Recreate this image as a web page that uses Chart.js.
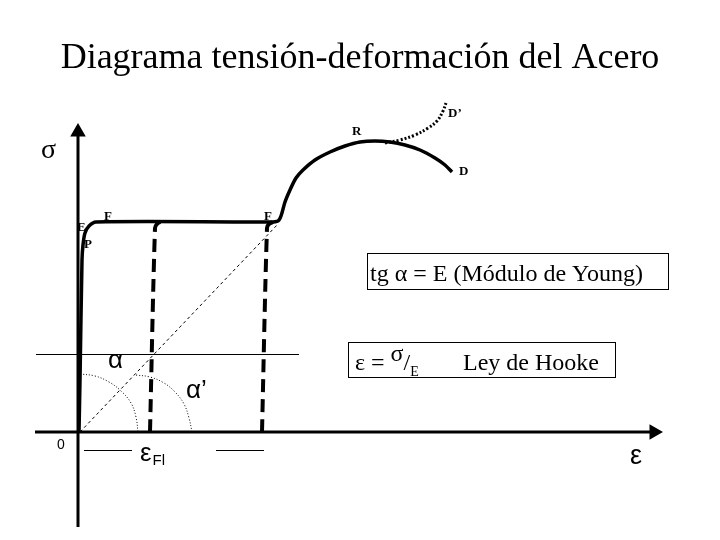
<!DOCTYPE html>
<html lang="es">
<head>
<meta charset="utf-8">
<title>Diagrama tensión-deformación del Acero</title>
<script src="https://cdn.jsdelivr.net/npm/chart.js@4.4.1/dist/chart.umd.min.js"></script>
<style>
  html, body { margin: 0; padding: 0; background: #fff; }
  #wrap { width: 720px; height: 540px; position: relative; }
</style>
</head>
<body>
<div id="wrap"><canvas id="diagrama"></canvas></div>
<script>
// Valores: ε en horizontal, σ en vertical, origen en el cruce de ejes
const curvaAcero = [[1,0],[2,52],[4,172],[5,187],[7,199],[11,206],[18,210],[192,210],[200,211],[203,216],
  [207,230],[212,242],[218,254],[225,262],[237,272],[252,280],[267,286],[282,290],[297,291],[312,290],
  [327,287],[342,282],[357,274],[367,267],[374,260]];
const ramaReal = [[307,289],[322,292],[337,297],[350,304],[359,311],[365,321],[368,329]];
const descarga1 = [[72,0],[77,204],[79,208],[82,210]];
const descarga2 = [[184,0],[189,204],[191,208],[195,210]];
const rectaE = [[2,0],[200,208]];
const lineaSigma = [[-42,77.5],[221,77.5]];
const tramoIzq = [[6,-18.5],[54,-18.5]];
const tramoDer = [[138,-18.5],[186,-18.5]];
const arcoAlfa = [[2,58],[17,56],[31,50],[43,41],[53,29],[58,15],[60,0]];
const arcoAlfa2 = [[58,57],[72,55],[86,49],[97,40],[106,28],[111,14],[114,0]];
const ejeSigma = [[0,-95],[0,300]];
const ejeEps = [[-43,0],[576,0]];

const SERIF = '"Liberation Serif", "Times New Roman", serif';
const SANS = '"Liberation Sans", Arial, sans-serif';

const pts = arr => arr.map(([x, y]) => ({ x, y }));

const linea = (data, extra) => Object.assign({
  data: pts(data),
  showLine: true,
  borderColor: '#000',
  backgroundColor: '#000',
  borderWidth: 1,
  pointRadius: 0,
  tension: 0,
  fill: false
}, extra);

// Textos y recuadros
const textos = {
  id: 'textos',
  beforeDatasetsDraw(chart) {
    const { ctx } = chart;
    const X = v => chart.scales.x.getPixelForValue(v);
    const Y = v => chart.scales.y.getPixelForValue(v);
    ctx.save();
    ctx.fillStyle = '#fff';
    ctx.fillRect(0, 0, chart.width, chart.height);
    ctx.fillStyle = '#000';
    ctx.font = 'bold 13px ' + SERIF;
    ctx.textAlign = 'left';
    ctx.fillText('E', X(-1), Y(201));
    ctx.restore();
  },
  afterDatasetsDraw(chart) {
    const { ctx } = chart;
    const X = v => chart.scales.x.getPixelForValue(v);
    const Y = v => chart.scales.y.getPixelForValue(v);
    const put = (t, u, v, font, align) => {
      ctx.font = font;
      ctx.textAlign = align || 'left';
      ctx.textBaseline = 'alphabetic';
      ctx.fillText(t, X(u), Y(v));
      return ctx.measureText(t).width;
    };
    ctx.save();
    ctx.fillStyle = '#000';
    ctx.strokeStyle = '#000';

    put('Diagrama tensión-deformación del Acero', 282, 364, '36px ' + SERIF, 'center');
    put('σ', -37, 274, '28px ' + SERIF);

    const letra = 'bold 13px ' + SERIF;
    put('R', 274, 297, letra);
    put('D’', 370, 315, letra);
    put('D', 381, 257, letra);
    put('F', 26, 212, letra);
    put('F', 186, 212, letra);
    put('P', 6, 184, letra);

    put('0', -21, -17, '14px ' + SANS);
    put('α', 30, 64, '26px ' + SANS);
    put('α’', 108, 34, '26px ' + SANS);
    put('ε', 552, -32, '27px ' + SANS);
    const w = put('ε', 62, -29, '26px ' + SANS);
    ctx.font = '15px ' + SANS;
    ctx.fillText('Fl', X(62) + w + 1, Y(-33));

    // recuadro módulo de Young
    ctx.lineWidth = 1;
    ctx.strokeRect(X(289) + 0.5, Y(179) + 0.5, X(590) - X(289), Y(143) - Y(179));
    put('tg α = E (Módulo de Young)', 292, 151, '24px ' + SERIF);

    // recuadro ley de Hooke
    ctx.strokeRect(X(270) + 0.5, Y(90) + 0.5, X(537) - X(270), Y(55) - Y(90));
    let x = X(277);
    const base = Y(62);
    const seg = (t, font, dy) => {
      ctx.font = font;
      ctx.textAlign = 'left';
      ctx.fillText(t, x, base + dy);
      x += ctx.measureText(t).width;
    };
    seg('ε = ', '24px ' + SERIF, 0);
    seg('σ', '24px ' + SERIF, -9);
    seg('/', '24px ' + SERIF, 0);
    seg('E', '14px ' + SERIF, 6);
    put('Ley de Hooke', 385, 62, '24px ' + SERIF);
    ctx.restore();
  }
};

new Chart(document.getElementById('diagrama'), {
  type: 'scatter',
  data: {
    datasets: [
      linea(ejeSigma, { borderWidth: 3, pointRadius: [0, 6], pointStyle: 'triangle', pointRotation: 0 }),
      linea(ejeEps, { borderWidth: 3, pointRadius: [0, 6], pointStyle: 'triangle', pointRotation: 90 }),
      linea(lineaSigma, { borderWidth: 1 }),
      linea(tramoIzq, { borderWidth: 1 }),
      linea(tramoDer, { borderWidth: 1 }),
      linea(rectaE, { borderWidth: 1, borderDash: [3, 3] }),
      linea(arcoAlfa, { borderWidth: 1, borderDash: [1, 2], tension: 0.4 }),
      linea(arcoAlfa2, { borderWidth: 1, borderDash: [1, 2], tension: 0.4 }),
      linea(descarga1, { borderWidth: 4, borderDash: [13, 7], tension: 0.3 }),
      linea(descarga2, { borderWidth: 4, borderDash: [13, 7], tension: 0.3 }),
      linea(ramaReal, { borderWidth: 3, borderDash: [2, 2], tension: 0.4 }),
      linea(curvaAcero, { borderWidth: 3.5, tension: 0.3, borderJoinStyle: 'round' })
    ]
  },
  options: {
    responsive: true,
    maintainAspectRatio: false,
    animation: false,
    layout: { padding: 0, autoPadding: false },
    scales: {
      x: { type: 'linear', min: -78, max: 642, display: false },
      y: { type: 'linear', min: -108, max: 432, display: false }
    },
    plugins: {
      legend: { display: false },
      tooltip: { enabled: false }
    }
  },
  plugins: [textos]
});
</script>
</body>
</html>
